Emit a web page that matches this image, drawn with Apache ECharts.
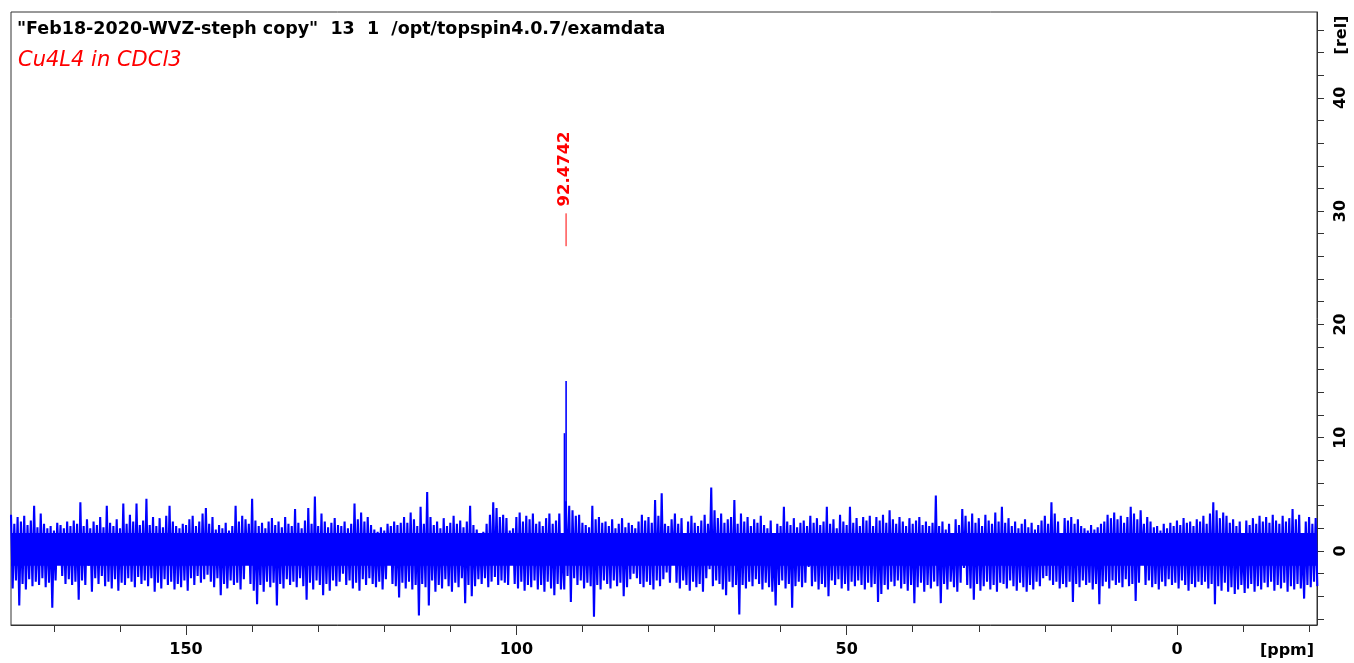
<!DOCTYPE html>
<html>
<head>
<meta charset="utf-8">
<script src="https://cdn.jsdelivr.net/npm/echarts@6/dist/echarts.min.js"></script>
<style>
html, body { margin: 0; padding: 0; background: #fff; }
#chart { width: 1354px; height: 663px; }
</style>
</head>
<body>
<div id="chart"></div>
<script>
// spectrum window (ppm, axis reversed) and intensity window (rel)
const ppmMin = -21.2;
const ppmMax = 176.5;
const relMin = -6.53;
const relMax = 47.57;

// noise: one up/down pair every 0.5 ppm starting at 176.5 ppm
const ppmStart = 176.5;
const ppmStep = 0.5;
const noiseTop = [
    3.2, 2.4, 3.0, 2.6, 3.1, 2.3, 2.7, 4.0, 2.1, 3.3, 2.4, 2.0, 2.2, 1.8, 2.5, 2.3, 2.0, 2.6, 2.2, 2.7,
    2.4, 4.3, 2.2, 2.8, 2.0, 2.6, 2.3, 3.0, 2.1, 4.0, 2.5, 2.2, 2.8, 2.0, 4.2, 2.4, 3.2, 2.6, 4.2, 2.3,
    2.7, 4.6, 2.3, 3.0, 2.2, 2.9, 2.1, 3.1, 4.0, 2.6, 2.2, 2.0, 2.4, 2.3, 2.8, 3.1, 2.2, 2.6, 3.3, 3.8,
    2.4, 3.0, 1.9, 2.3, 2.0, 2.5, 1.8, 2.2, 4.0, 2.6, 3.1, 2.8, 2.4, 4.6, 2.7, 2.2, 2.5, 2.0, 2.6, 2.9,
    2.3, 2.6, 2.1, 3.0, 2.4, 2.2, 3.7, 2.5, 2.0, 2.7, 3.8, 2.4, 4.8, 2.2, 3.3, 2.6, 2.1, 2.5, 2.9, 2.3,
    2.2, 2.6, 2.0, 2.4, 4.2, 2.8, 3.4, 2.6, 3.0, 2.3, 1.9, 1.7, 2.1, 1.8, 2.4, 2.2, 2.6, 2.3, 2.5, 3.0,
    2.5, 3.4, 2.8, 2.2, 3.9, 2.4, 5.2, 3.0, 2.3, 2.6, 2.0, 2.9, 2.2, 2.5, 3.1, 2.4, 2.7, 2.1, 2.6, 4.0,
    2.3, 1.9, 1.5, 1.7, 2.4, 3.2, 4.3, 3.8, 3.0, 3.2, 2.9, 1.8, 2.0, 3.0, 3.4, 2.6, 3.1, 2.8, 3.3, 2.4,
    2.6, 2.2, 2.9, 3.3, 2.4, 2.7, 3.3, 0.8, 4.4, 4.0, 3.6, 3.1, 3.2, 2.5, 2.3, 2.1, 4.0, 2.8, 3.0, 2.5,
    2.6, 2.2, 2.8, 2.0, 2.4, 2.9, 2.1, 2.5, 2.3, 2.0, 2.6, 3.2, 2.7, 3.0, 2.5, 4.5, 3.1, 5.1, 2.4, 2.2,
    2.8, 3.3, 2.4, 2.9, 1.2, 2.6, 3.1, 2.5, 2.2, 2.7, 3.2, 2.4, 5.6, 3.6, 2.9, 3.3, 2.5, 2.8, 3.0, 4.5,
    2.4, 3.3, 2.6, 3.0, 2.2, 2.8, 2.5, 3.1, 2.3, 2.0, 2.7, 0.8, 2.4, 2.2, 3.9, 2.6, 2.3, 2.9, 2.1, 2.5,
    2.7, 2.2, 3.1, 2.5, 2.9, 2.3, 2.6, 3.9, 2.4, 2.8, 2.0, 3.2, 2.6, 2.3, 3.9, 2.5, 2.9, 2.2, 3.0, 2.7,
    3.1, 2.2, 3.0, 2.7, 3.2, 2.5, 3.6, 2.8, 2.4, 3.0, 2.6, 2.2, 2.9, 2.4, 2.7, 3.0, 2.3, 2.6, 2.2, 2.5,
    4.9, 2.2, 2.6, 1.9, 2.4, 0.9, 2.8, 2.3, 3.7, 3.1, 2.6, 3.3, 2.5, 2.9, 2.2, 3.2, 2.7, 2.4, 3.4, 2.6,
    3.9, 2.5, 2.9, 2.2, 2.6, 2.0, 2.4, 2.8, 2.1, 2.5, 1.9, 2.3, 2.7, 3.1, 2.4, 4.3, 3.3, 2.6, 1.5, 2.9,
    2.7, 3.0, 2.4, 2.8, 2.2, 2.0, 1.8, 2.3, 1.9, 2.1, 2.4, 2.6, 3.2, 2.9, 3.4, 2.8, 3.1, 2.5, 3.0, 3.9,
    3.3, 2.8, 3.6, 2.4, 3.0, 2.6, 2.1, 2.2, 1.8, 2.4, 2.0, 2.5, 2.2, 2.7, 2.3, 2.9, 2.5, 2.6, 2.2, 2.8,
    2.6, 3.1, 2.4, 3.3, 4.3, 3.6, 2.9, 3.4, 3.1, 2.5, 2.8, 2.2, 2.6, 0.8, 2.7, 2.3, 2.9, 2.4, 3.1, 2.6,
    3.0, 2.5, 3.2, 2.7, 2.4, 3.1, 2.6, 2.9, 3.7, 2.8, 3.2, 0.8, 2.6, 3.0, 2.4, 2.9
];
const noiseBottom = [
    -3.3, -2.6, -4.8, -2.9, -3.4, -2.5, -3.1, -2.7, -3.0, -2.4, -3.2, -2.8, -5.0, -2.6, -1.1, -2.2, -2.9, -2.5, -3.0, -2.7,
    -4.3, -2.6, -3.0, -1.3, -3.6, -2.4, -2.9, -2.2, -3.1, -2.7, -3.3, -2.5, -3.5, -2.8, -3.0, -2.4, -2.7, -3.2, -2.3, -2.9,
    -2.6, -3.1, -2.4, -3.6, -2.8, -3.3, -2.5, -3.0, -2.7, -3.4, -2.9, -3.2, -2.6, -3.5, -2.4, -3.0, -2.2, -2.8, -2.5, -2.1,
    -2.7, -3.2, -2.4, -3.9, -2.9, -3.3, -2.6, -3.0, -2.8, -3.4, -2.5, -1.2, -2.9, -3.5, -4.7, -3.0, -3.6, -2.7, -3.2, -2.8,
    -4.8, -2.9, -3.3, -2.5, -3.0, -2.7, -3.2, -2.4, -3.1, -4.3, -2.8, -3.4, -2.6, -3.0, -3.9, -2.9, -3.5, -2.6, -3.1, -2.7,
    -2.0, -3.0, -2.6, -3.3, -2.8, -3.5, -2.5, -3.0, -2.4, -2.9, -3.2, -2.7, -3.4, -2.5, -1.0, -2.9, -3.1, -4.1, -2.8, -3.3,
    -2.7, -3.4, -3.0, -5.7, -2.9, -3.2, -4.8, -2.6, -3.6, -3.0, -3.3, -2.5, -3.1, -3.6, -2.8, -3.2, -2.4, -4.6, -3.0, -4.0,
    -3.1, -2.5, -2.9, -2.4, -3.2, -2.7, -2.3, -3.0, -2.6, -2.8, -3.0, -1.2, -2.9, -3.3, -2.7, -3.5, -3.0, -3.2, -2.6, -3.4,
    -3.0, -3.6, -2.7, -3.3, -3.9, -2.9, -3.4, -3.4, -2.2, -4.5, -2.4, -3.0, -2.6, -3.3, -2.8, -3.1, -5.8, -3.0, -3.4, -2.6,
    -2.9, -3.3, -2.6, -3.1, -2.8, -4.0, -3.2, -2.5, -2.0, -2.4, -2.9, -3.2, -2.7, -3.0, -3.4, -2.6, -3.1, -2.5, -1.9, -2.8,
    -1.1, -2.8, -3.3, -2.6, -3.0, -3.5, -2.7, -3.2, -2.9, -3.6, -2.4, -1.6, -3.1, -2.6, -2.9, -3.4, -3.9, -2.7, -3.2, -3.0,
    -5.6, -3.0, -3.3, -2.7, -3.1, -2.5, -2.9, -3.4, -2.8, -3.2, -3.6, -4.8, -3.0, -2.6, -3.3, -2.9, -5.0, -3.1, -2.7, -3.2,
    -2.8, -1.4, -3.1, -2.7, -3.4, -2.9, -3.2, -4.0, -2.6, -3.0, -2.5, -3.3, -2.9, -3.5, -2.7, -3.1, -2.6, -3.0, -3.4, -2.8,
    -3.2, -2.9, -4.5, -3.8, -3.0, -3.4, -2.7, -3.1, -2.6, -3.3, -2.9, -3.5, -3.0, -4.6, -3.2, -2.8, -3.6, -3.0, -3.3, -2.7,
    -3.1, -4.6, -2.9, -3.4, -2.7, -3.2, -3.6, -2.8, -1.5, -3.0, -3.3, -4.3, -2.9, -3.5, -3.1, -2.7, -3.4, -3.0, -3.6, -2.8,
    -2.9, -3.3, -2.6, -3.1, -3.5, -2.8, -3.2, -3.6, -3.0, -3.4, -2.7, -3.1, -2.4, -2.2, -2.6, -3.0, -2.7, -3.3, -2.9, -3.2,
    -2.7, -4.5, -2.9, -3.2, -2.6, -3.0, -2.8, -3.4, -2.9, -4.7, -3.1, -2.7, -3.3, -2.6, -3.0, -2.8, -3.2, -2.5, -3.1, -2.9,
    -4.4, -2.8, -1.0, -3.0, -2.6, -3.2, -2.9, -3.4, -2.7, -3.1, -2.5, -3.0, -2.8, -3.3, -2.6, -3.0, -3.5, -2.9, -3.2, -2.7,
    -3.0, -2.7, -3.3, -2.9, -4.7, -3.1, -3.5, -2.8, -3.6, -3.2, -3.8, -3.4, -3.0, -3.7, -3.3, -2.9, -3.6, -3.1, -3.4, -2.8,
    -3.2, -2.7, -3.5, -3.0, -3.3, -2.8, -3.6, -3.1, -3.4, -2.9, -3.3, -4.2, -3.0, -3.2, -2.7, -3.1
];
// band that the noise fills solidly
const noiseCore = [-1.3, 1.6];

// the single signal
const peakPpm = [92.72, 92.47];
const peakRel = [10.4, 15.0];
const peakLabel = '92.4742';
const peakLabelPpm = 92.4742;
const peakTickRel = [26.9, 29.8];
const peakTextRel = 30.4;

// ticks and labels
const xMinorTicks = [-20, -10, 0, 10, 20, 30, 40, 50, 60, 70, 80, 90, 100, 110, 120, 130, 140, 150, 160, 170];
const xMajorTicks = [0, 50, 100, 150];
const yTicks = [-6, -4, -2, 0, 2, 4, 6, 8, 10, 12, 14, 16, 18, 20, 22, 24, 26, 28, 30, 32, 34, 36, 38, 40, 42, 44, 46];
const yLabels = [0, 10, 20, 30, 40];

const titleLine = '"Feb18-2020-WVZ-steph copy"  13  1  /opt/topspin4.0.7/examdata';
const sampleLine = 'Cu4L4 in CDCl3';

const fontName = 'DejaVu Sans';
const axisColor = '#333';
const specColor = '#0000ff';

// zig-zag through the read tips: up at each step, down half a step later
let noiseLine = [];
noiseTop.forEach((v, i) => {
    const p = ppmStart - i * ppmStep;
    noiseLine.push([p, v]);
    noiseLine.push([p - ppmStep / 2, noiseBottom[i]]);
});
let peakData = peakPpm.map((p, i) => [p, peakRel[i]]);

var myChart = echarts.init(document.getElementById('chart'));

let option = {
    animation: false,
    backgroundColor: '#fff',
    title: [
        {
            text: titleLine,
            left: 17,
            top: 20,
            padding: 0,
            textStyle: { fontFamily: fontName, fontWeight: 'bold', fontSize: 17.5, color: '#000' }
        },
        {
            text: sampleLine,
            left: 18,
            top: 50,
            padding: 0,
            textStyle: { fontFamily: fontName, fontStyle: 'italic', fontWeight: 'normal', fontSize: 21, color: '#ff0000' }
        }
    ],
    grid: {
        left: 11,
        right: 37,
        top: 12,
        bottom: 38,
        show: true,
        borderColor: axisColor,
        borderWidth: 1,
        outerBoundsMode: 'none'
    },
    xAxis: [
        {
            type: 'value',
            min: ppmMin,
            max: ppmMax,
            inverse: true,
            position: 'bottom',
            axisLine: { show: true, onZero: false, lineStyle: { color: axisColor, width: 1 } },
            axisTick: { show: true, length: 7, customValues: xMinorTicks, lineStyle: { color: axisColor } },
            axisLabel: { show: false },
            splitLine: { show: false }
        },
        {
            type: 'value',
            min: ppmMin,
            max: ppmMax,
            inverse: true,
            position: 'bottom',
            axisLine: { show: false, onZero: false },
            axisTick: { show: true, length: 10, customValues: xMajorTicks, lineStyle: { color: axisColor } },
            axisLabel: {
                show: true,
                customValues: xMajorTicks,
                margin: 17,
                fontFamily: fontName,
                fontWeight: 'bold',
                fontSize: 16,
                color: '#000'
            },
            splitLine: { show: false }
        }
    ],
    yAxis: {
        type: 'value',
        min: relMin,
        max: relMax,
        position: 'right',
        axisLine: { show: true, onZero: false, lineStyle: { color: axisColor, width: 1 } },
        axisTick: { show: true, length: 7, customValues: yTicks, lineStyle: { color: axisColor } },
        axisLabel: {
            show: true,
            customValues: yLabels,
            rotate: 90,
            margin: 16,
            fontFamily: fontName,
            fontWeight: 'bold',
            fontSize: 16,
            color: '#000'
        },
        splitLine: { show: false }
    },
    graphic: [
        {
            type: 'text',
            x: 1287,
            y: 651,
            style: { text: '[ppm]', fill: '#000', font: 'bold 16px "DejaVu Sans"', align: 'center', verticalAlign: 'middle' }
        },
        {
            type: 'text',
            x: 1342,
            y: 35,
            rotation: Math.PI / 2,
            style: { text: '[rel]', fill: '#000', font: 'bold 16px "DejaVu Sans"', align: 'center', verticalAlign: 'middle' }
        }
    ],
    series: [
        {
            type: 'custom',
            name: 'core',
            xAxisIndex: 0,
            yAxisIndex: 0,
            clip: true,
            silent: true,
            data: [[ppmMax, ppmMin, noiseCore[0], noiseCore[1]]],
            renderItem: function (params, api) {
                const a = api.coord([api.value(0), api.value(3)]);
                const b = api.coord([api.value(1), api.value(2)]);
                return {
                    type: 'rect',
                    shape: { x: a[0], y: a[1], width: b[0] - a[0], height: b[1] - a[1] },
                    style: { fill: specColor }
                };
            }
        },
        {
            type: 'line',
            name: 'noise',
            xAxisIndex: 0,
            yAxisIndex: 0,
            clip: true,
            silent: true,
            symbol: 'none',
            showSymbol: false,
            sampling: null,
            lineStyle: { color: specColor, width: 2.1, join: 'bevel' },
            data: noiseLine
        },
        {
            type: 'custom',
            name: 'peak',
            xAxisIndex: 0,
            yAxisIndex: 0,
            clip: true,
            silent: true,
            encode: { x: 0, y: 1 },
            data: peakData,
            renderItem: function (params, api) {
                const top = api.coord([api.value(0), api.value(1)]);
                const base = api.coord([api.value(0), 0]);
                return {
                    type: 'rect',
                    shape: { x: top[0] - 0.8, y: top[1], width: 1.6, height: base[1] - top[1] },
                    style: { fill: specColor }
                };
            }
        },
        {
            type: 'custom',
            name: 'label',
            xAxisIndex: 0,
            yAxisIndex: 0,
            silent: true,
            data: [[peakLabelPpm, peakTickRel[0], peakTickRel[1], peakTextRel]],
            renderItem: function (params, api) {
                const p1 = api.coord([api.value(0), api.value(1)]);
                const p2 = api.coord([api.value(0), api.value(2)]);
                const pt = api.coord([api.value(0), api.value(3)]);
                return {
                    type: 'group',
                    children: [
                        {
                            type: 'line',
                            shape: { x1: p1[0], y1: p1[1], x2: p2[0], y2: p2[1] },
                            style: { stroke: '#ff0000', lineWidth: 1 }
                        },
                        {
                            type: 'text',
                            x: pt[0] - 1,
                            y: pt[1],
                            rotation: Math.PI / 2,
                            style: {
                                text: peakLabel,
                                fill: '#ff0000',
                                font: 'bold 16.5px "DejaVu Sans"',
                                align: 'left',
                                verticalAlign: 'middle'
                            }
                        }
                    ]
                };
            }
        }
    ]
};

myChart.setOption(option);
</script>
</body>
</html>
